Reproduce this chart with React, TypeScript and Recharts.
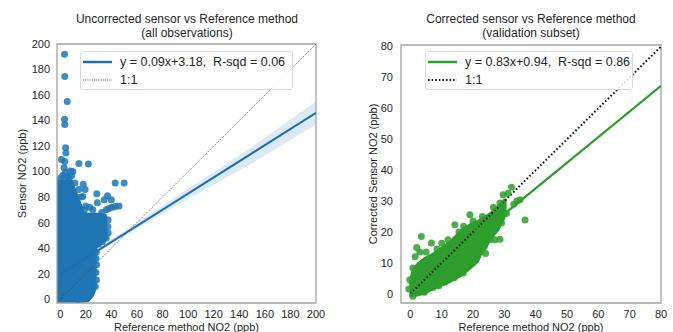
import React from 'react';
import { ComposedChart, Scatter, Line, Area, XAxis, YAxis, ReferenceArea, ReferenceLine, Legend } from 'recharts';

const FONT = '"Liberation Sans", Arial, sans-serif';
const TEXT = '#262626';
const FRAME = '#a3a3a3';

// ---- uncorrected sensor (left panel) ----
const leftTicks = [0, 20, 40, 60, 80, 100, 120, 140, 160, 180, 200];
const leftTitle = ['Uncorrected sensor vs Reference method', '(all observations)'];
const leftLegend = ['y = 0.09x+3.18,  R-sqd = 0.06', '1:1'];

// dense part of the cloud: lower / upper edge at each x
const leftCore = [
  { x: -2.5, lo: -2.5, hi: 93 },
  { x: 9, lo: -2.5, hi: 93 },
  { x: 11, lo: -2.5, hi: 87 },
  { x: 13.3, lo: -2.5, hi: 82 },
  { x: 15, lo: -2.5, hi: 77 },
  { x: 17, lo: -2.5, hi: 72 },
  { x: 18.5, lo: -2, hi: 67.5 },
  { x: 22, lo: -1.5, hi: 67 },
  { x: 25, lo: 2, hi: 67 },
  { x: 27, lo: 6, hi: 67 },
  { x: 27.6, lo: 10, hi: 67 },
  { x: 27.9, lo: 40, hi: 67 },
  { x: 31, lo: 43, hi: 67 },
  { x: 35.5, lo: 46, hi: 66 },
  { x: 36.7, lo: 49, hi: 63 },
];

const leftPoints = [
  { x: 3.4, y: 192 }, { x: 3.6, y: 174.5 }, { x: 5.5, y: 155 }, { x: 3.4, y: 141 },
  { x: 3.6, y: 137 }, { x: 4.2, y: 118.6 }, { x: 4.5, y: 114.5 }, { x: 1, y: 109.5 },
  { x: 3.6, y: 108 }, { x: 3, y: 103 }, { x: 4, y: 99 }, { x: 14.6, y: 106.3 },
  { x: 9.9, y: 100 }, { x: 7.8, y: 100.5 }, { x: 22, y: 106 }, { x: 9, y: 97 },
  { x: 43, y: 91 }, { x: 50, y: 91 }, { x: 18, y: 90 }, { x: 19.5, y: 86 },
  { x: 17.7, y: 80.5 }, { x: 28.6, y: 82.7 }, { x: 37, y: 81 }, { x: 40, y: 78 },
  { x: 34.4, y: 78 }, { x: 43, y: 72.7 }, { x: 46, y: 73 }, { x: 38, y: 71 },
  { x: 29, y: 75.5 }, { x: 7.8, y: 77 }, { x: 23, y: 72 }, { x: 32.5, y: 68 },
  { x: 36, y: 70 }, { x: 40.5, y: 72 }, { x: 25.5, y: 70 }, { x: 20, y: 73 },
  { x: 14.5, y: 86 }, { x: 11.5, y: 91 }, { x: 7, y: 95 }, { x: 0.5, y: 95 },
  { x: 2, y: 97 }, { x: 5, y: 96 }, { x: 16, y: 80 }, { x: 19, y: 70 },
  { x: 37.5, y: 62 }, { x: 37.3, y: 57 }, { x: 37.5, y: 52 }, { x: 36, y: 48 },
  { x: 33, y: 45 }, { x: 30, y: 43 }, { x: 28.3, y: 37 }, { x: 28, y: 32 },
  { x: 28.4, y: 27 }, { x: 28, y: 21 }, { x: 28.3, y: 15 }, { x: 25, y: 8.4 },
  { x: 27.5, y: 10 }, { x: 22, y: 4 }, { x: 18.5, y: 1.8 }, { x: 14, y: 0 },
  { x: 21, y: 10 },
];

const leftFit = [{ x: 0, y: 19.5 }, { x: 200, y: 146 }];
const leftBand = [
  { x: 0, lo: 17, hi: 22 },
  { x: 25, lo: 34.5, hi: 37.5 },
  { x: 50, lo: 49.5, hi: 53.5 },
  { x: 100, lo: 78.5, hi: 86.5 },
  { x: 150, lo: 106.5, hi: 119.5 },
  { x: 200, lo: 137, hi: 155 },
];
const leftIdentity = [{ x: 0, y: 0 }, { x: 200, y: 200 }];

// ---- corrected sensor (right panel) ----
const rightTicks = [0, 10, 20, 30, 40, 50, 60, 70, 80];
const rightTitle = ['Corrected sensor vs Reference method', '(validation subset)'];
const rightLegend = ['y = 0.83x+0.94,  R-sqd = 0.86', '1:1'];

const rightCore = [
  { x: -0.3, lo: -0.5, hi: 3 },
  { x: 0.5, lo: -0.8, hi: 7 },
  { x: 2, lo: -0.6, hi: 9.5 },
  { x: 4.5, lo: 0, hi: 11.5 },
  { x: 7.2, lo: 1.5, hi: 13 },
  { x: 10.4, lo: 2.8, hi: 15.3 },
  { x: 12.6, lo: 3.8, hi: 16.9 },
  { x: 14.7, lo: 5, hi: 19 },
  { x: 16.8, lo: 6.2, hi: 21 },
  { x: 19.5, lo: 8.5, hi: 22.8 },
  { x: 21.6, lo: 10.5, hi: 23.6 },
  { x: 22.5, lo: 12.5, hi: 24.2 },
  { x: 24.3, lo: 15, hi: 25.3 },
  { x: 25.4, lo: 17.5, hi: 26 },
  { x: 28, lo: 20.5, hi: 28.5 },
  { x: 30, lo: 24.5, hi: 30.5 },
  { x: 30.7, lo: 26.5, hi: 30 },
];

const rightPoints = [
  { x: 3.5, y: 18.5 }, { x: 2, y: 15 }, { x: 1.5, y: 12 }, { x: 3, y: 13.5 },
  { x: 6.7, y: 16.4 }, { x: 5, y: 13.5 }, { x: 8.5, y: 14.5 }, { x: 10, y: 16.3 },
  { x: 12, y: 17.5 }, { x: 14.2, y: 22.3 }, { x: 15.5, y: 20 }, { x: 17, y: 21.8 },
  { x: 19, y: 25.6 }, { x: 20, y: 23.5 }, { x: 23.2, y: 17.5 }, { x: 23, y: 25 },
  { x: 24.3, y: 22.3 }, { x: 25.4, y: 17.5 }, { x: 27, y: 17.5 }, { x: 28.6, y: 17.6 },
  { x: 26.5, y: 28 }, { x: 28.6, y: 29.4 }, { x: 29.1, y: 22.9 }, { x: 29.6, y: 32 },
  { x: 30.7, y: 26 }, { x: 31.2, y: 32.5 }, { x: 32.3, y: 34.5 }, { x: 33, y: 29 },
  { x: 34, y: 30 }, { x: 35, y: 30.4 }, { x: 36.6, y: 23.9 }, { x: 25.5, y: 21 },
  { x: 21.5, y: 13 }, { x: 22.5, y: 19.5 }, { x: 18, y: 9 }, { x: 14, y: 5.2 },
  { x: 9, y: 2.5 }, { x: 4.5, y: 0.5 }, { x: 0.8, y: -0.8 }, { x: -0.5, y: 1.5 },
  { x: -0.2, y: 4.5 }, { x: 0.8, y: 8.3 }, { x: 11, y: 3.8 }, { x: 20, y: 10 },
  { x: 24, y: 13 }, { x: 16.8, y: 6.7 }, { x: 7.2, y: 2 }, { x: 21, y: 21 },
];

const rightFit = [{ x: 0, y: 0.94 }, { x: 80, y: 67.3 }];
const rightIdentity = [{ x: 0, y: 0 }, { x: 80, y: 80 }];

const range = (d: any) => [d.lo, d.hi];

const dot = (fill: string) => (p: any) => (
  <circle cx={p.cx} cy={p.cy} r={3.5} fill={fill} fillOpacity={0.85} />
);

const tickStyle = { fontSize: 11, fill: TEXT, fontFamily: FONT };

const LegendBox = ({ labels, fitColor, fitWidth, idColor, idWidth, idDash, width }: any) => (
  <div
    style={{
      width,
      height: 39,
      boxSizing: 'border-box',
      border: '1px solid #dadada',
      borderRadius: 3,
      background: 'rgba(255,255,255,0.85)',
      padding: '1px 0 0 2px',
      fontFamily: FONT,
      fontSize: 12.5,
      color: TEXT,
    }}
  >
    {labels.map((label: string, i: number) => (
      <div key={label} style={{ display: 'flex', alignItems: 'center', height: 18 }}>
        <svg width={29} height={6} style={{ flex: 'none' }}>
          <line
            x1={0}
            x2={29}
            y1={3}
            y2={3}
            stroke={i === 0 ? fitColor : idColor}
            strokeWidth={i === 0 ? fitWidth : idWidth}
            strokeDasharray={i === 0 ? undefined : idDash}
          />
        </svg>
        <span style={{ marginLeft: 8, whiteSpace: 'pre' }}>{label}</span>
      </div>
    ))}
  </div>
);

const Title = ({ lines, cx }: { lines: string[]; cx: number }) => (
  <div
    style={{
      position: 'absolute',
      left: cx - 150,
      width: 300,
      top: 13,
      textAlign: 'center',
      fontFamily: FONT,
      fontSize: 12,
      lineHeight: '13.5px',
      color: TEXT,
    }}
  >
    {lines.map((l) => (
      <div key={l}>{l}</div>
    ))}
  </div>
);

export default function App() {
  return (
    <div style={{ position: 'absolute', left: 0, top: 0, width: 673, height: 332, background: '#fff', overflow: 'hidden' }}>
      <Title lines={leftTitle} cx={187} />
      <Title lines={rightTitle} cx={531} />

      <div style={{ position: 'absolute', left: 0, top: 0 }}>
        <ComposedChart width={340} height={332} margin={{ top: 44, right: 24, bottom: 0, left: 12 }}>
          <XAxis
            type="number"
            dataKey="x"
            domain={[-2.5, 200]}
            ticks={leftTicks}
            allowDataOverflow
            tickLine={false}
            axisLine={false}
            tickSize={6}
            tickMargin={1}
            height={29}
            tick={tickStyle}
            label={{ value: 'Reference method NO2 (ppb)', position: 'insideBottom', offset: 1, fontSize: 11, fill: TEXT, fontFamily: FONT }}
          />
          <YAxis
            type="number"
            dataKey="y"
            domain={[-3, 200]}
            ticks={leftTicks}
            allowDataOverflow
            tickLine={false}
            axisLine={false}
            tickSize={6}
            tickMargin={1}
            width={45}
            tick={tickStyle}
            label={{ value: 'Sensor NO2 (ppb)', angle: -90, position: 'insideLeft', offset: 10, fontSize: 11, fill: TEXT, fontFamily: FONT, style: { textAnchor: 'middle' } }}
          />
          <Area data={leftBand} dataKey={range} type="linear" stroke="none" fill="#9ec3e3" fillOpacity={0.35} dot={false} activeDot={false} legendType="none" isAnimationActive={false} />
          <Line data={leftFit} dataKey="y" type="linear" stroke="#1f6eb0" strokeWidth={2} dot={false} activeDot={false} legendType="none" isAnimationActive={false} />
          <Area data={leftCore} dataKey={range} type="linear" stroke="#1f74b2" strokeWidth={2} fill="#1f74b2" fillOpacity={1} dot={false} activeDot={false} legendType="none" isAnimationActive={false} />
          <Scatter data={leftPoints} dataKey="y" fill="#1f77b4" shape={dot('#1f77b4')} legendType="none" isAnimationActive={false} />
          <ReferenceLine
            segment={[leftIdentity[0], leftIdentity[1]]}
            stroke="#3a3a3a"
            strokeWidth={0.9}
            strokeDasharray="1 1.4"
          />
          <ReferenceArea x1={-2.5} x2={200} y1={-3} y2={200} fill="none" stroke={FRAME} strokeWidth={1.3} />
          <Legend
            layout="horizontal"
            verticalAlign="middle"
            align="center"
            wrapperStyle={{ left: 80, top: 51, width: 213, height: 39 }}
            content={() => (
              <LegendBox labels={leftLegend} width={213} fitColor="#1f6eb0" fitWidth={2.5} idColor="#444" idWidth={1} idDash="1 1.2" />
            )}
          />
        </ComposedChart>
      </div>

      <div style={{ position: 'absolute', left: 340, top: 0 }}>
        <ComposedChart width={333} height={332} margin={{ top: 45, right: 12, bottom: 0, left: 16 }}>
          <XAxis
            type="number"
            dataKey="x"
            domain={[-3, 80]}
            ticks={rightTicks}
            allowDataOverflow
            tickLine={false}
            axisLine={false}
            tickSize={6}
            tickMargin={1}
            height={29}
            tick={tickStyle}
            label={{ value: 'Reference method NO2 (ppb)', position: 'insideBottom', offset: 1, fontSize: 11, fill: TEXT, fontFamily: FONT }}
          />
          <YAxis
            type="number"
            dataKey="y"
            domain={[-3, 80.5]}
            ticks={rightTicks}
            allowDataOverflow
            tickLine={false}
            axisLine={false}
            tickSize={6}
            tickMargin={2}
            width={45}
            tick={tickStyle}
            label={{ value: 'Corrected Sensor NO2 (ppb)', angle: -90, position: 'insideLeft', offset: 17, fontSize: 11, fill: TEXT, fontFamily: FONT, style: { textAnchor: 'middle' } }}
          />
          <Line data={rightFit} dataKey="y" type="linear" stroke="#2ca02c" strokeWidth={2.3} dot={false} activeDot={false} legendType="none" isAnimationActive={false} />
          <Area data={rightCore} dataKey={range} type="linear" stroke="#2e9d2e" strokeWidth={2} fill="#2e9d2e" fillOpacity={1} dot={false} activeDot={false} legendType="none" isAnimationActive={false} />
          <Scatter data={rightPoints} dataKey="y" fill="#2ca02c" shape={dot('#2ca02c')} legendType="none" isAnimationActive={false} />
          <ReferenceLine
            segment={[rightIdentity[0], rightIdentity[1]]}
            stroke="#111"
            strokeWidth={2}
            strokeDasharray="1.6 2.2"
          />
          <ReferenceArea x1={-3} x2={80} y1={-3} y2={80.5} fill="none" stroke={FRAME} strokeWidth={1.3} />
          <Legend
            layout="horizontal"
            verticalAlign="middle"
            align="center"
            wrapperStyle={{ left: 85, top: 51, width: 208, height: 40 }}
            content={() => (
              <LegendBox labels={rightLegend} width={208} fitColor="#2ca02c" fitWidth={2.5} idColor="#111" idWidth={2} idDash="1.6 2" />
            )}
          />
        </ComposedChart>
      </div>
    </div>
  );
}
